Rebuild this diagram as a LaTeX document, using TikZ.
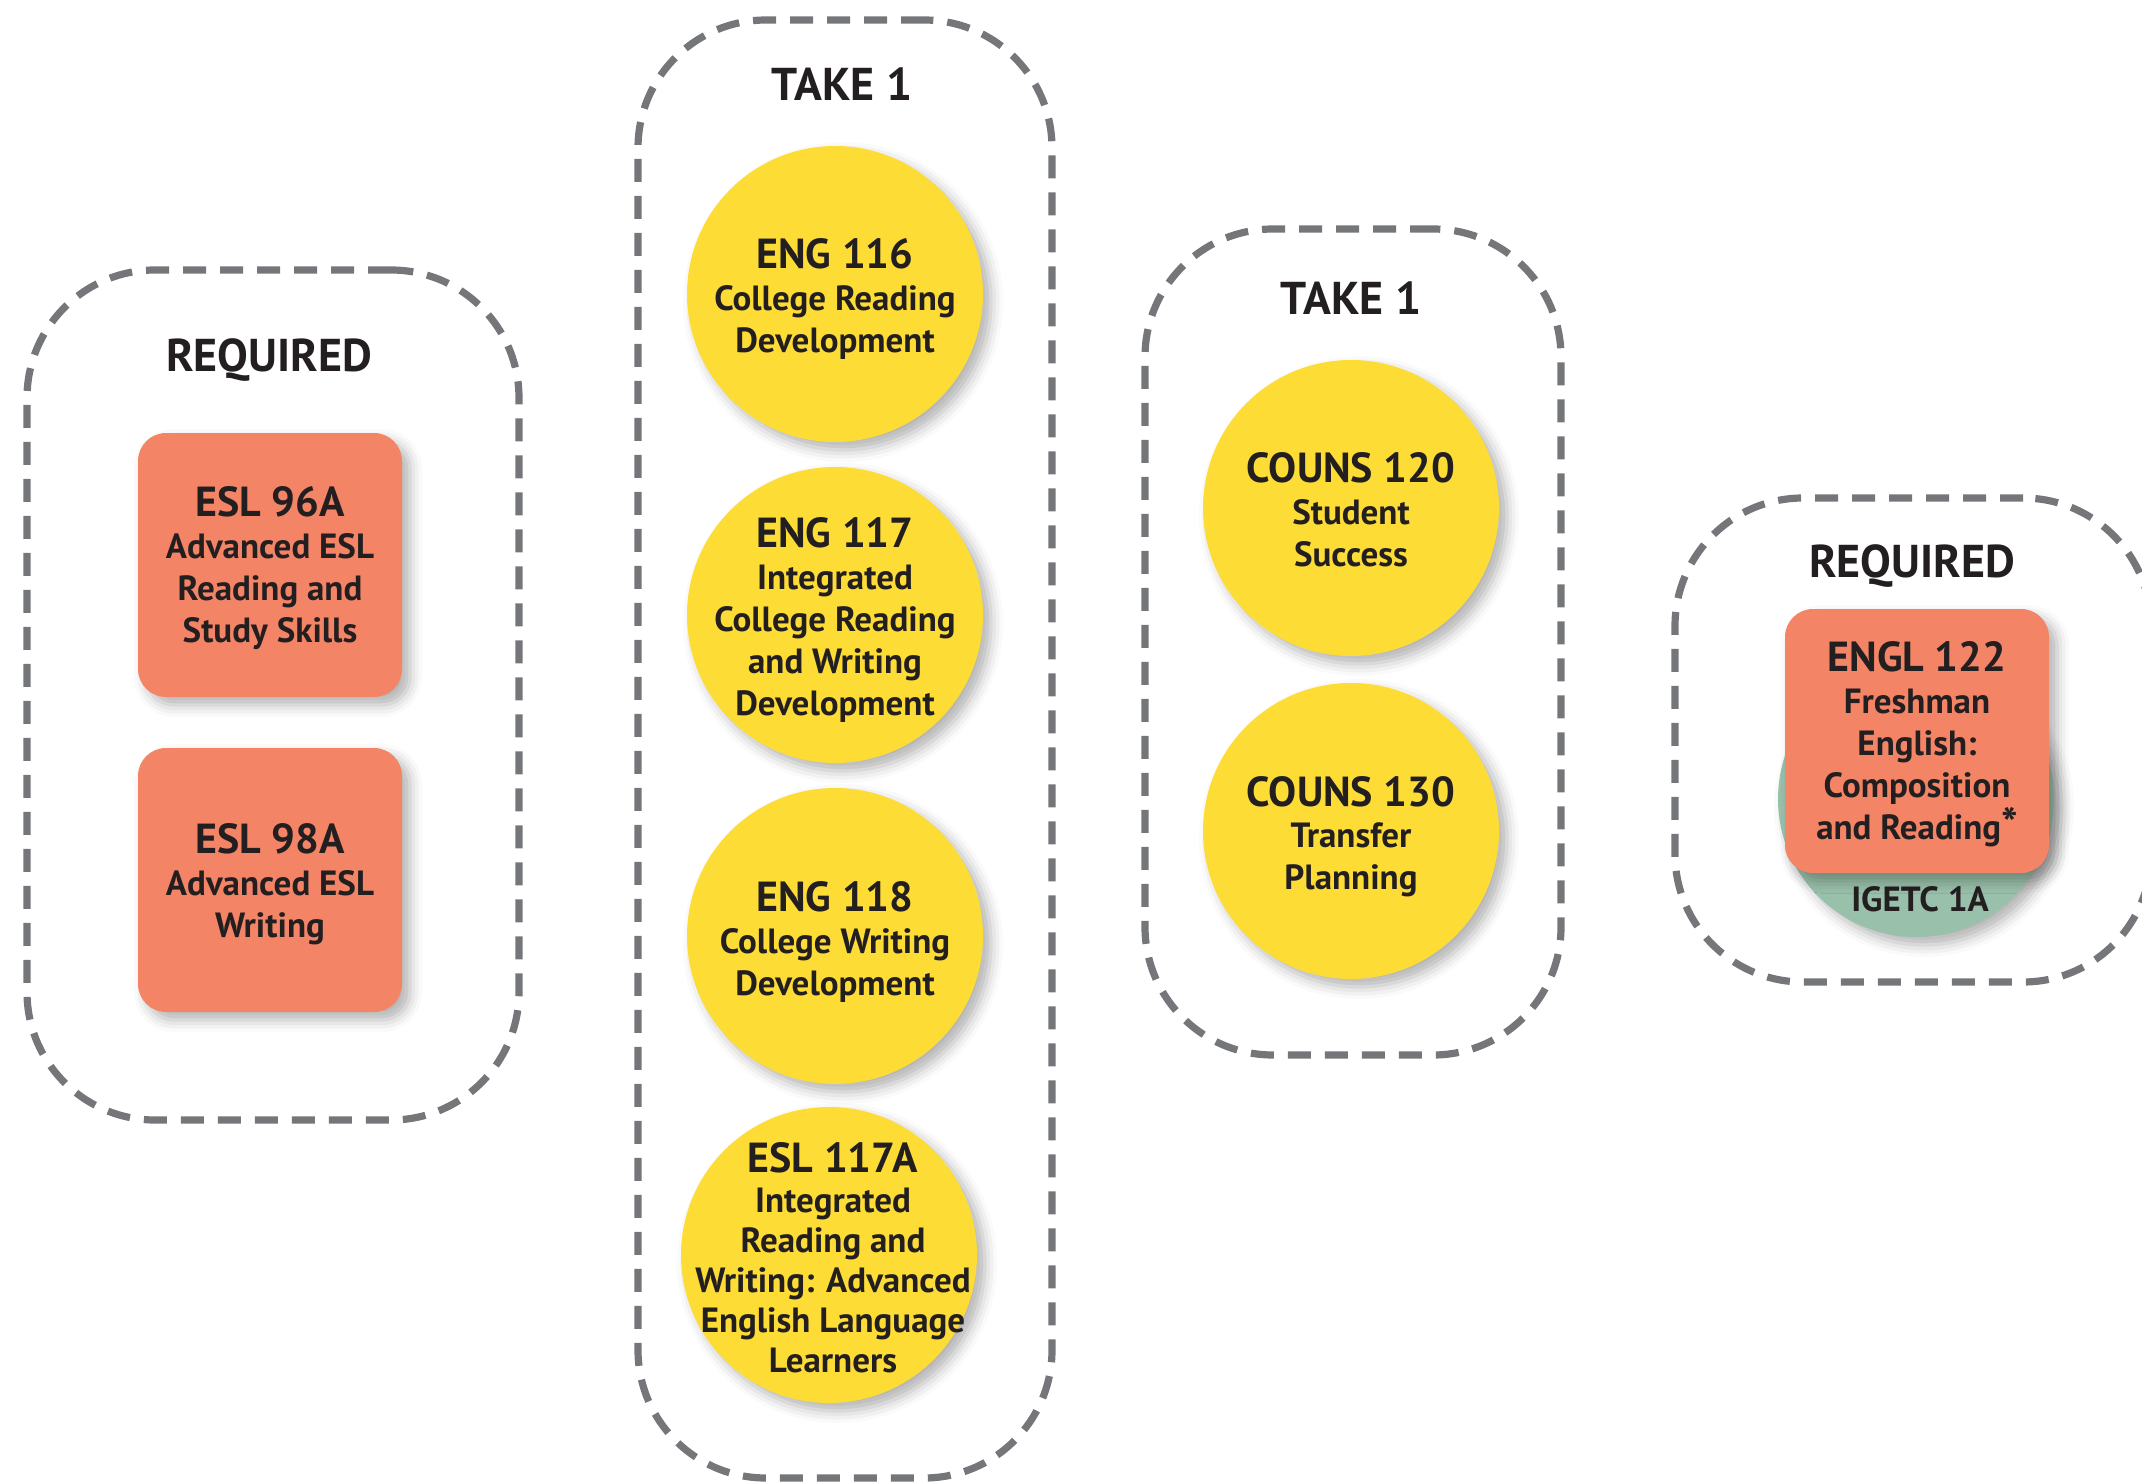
\documentclass[tikz,border=0pt]{standalone}
\usepackage{fontspec}
\setmainfont{PT Sans}
\usepackage{tikz}
\usetikzlibrary{positioning,shapes,shadows.blur}
\definecolor{salmon}{HTML}{F48466}
\definecolor{sun}{HTML}{FDDC36}
\definecolor{sage}{HTML}{99C0AA}
\definecolor{dashgray}{HTML}{75767A}
\definecolor{ink}{HTML}{231F20}
\tikzstyle{groupbox} = [draw=dashgray, line width=3.6pt, dash pattern=on 11.5pt off 7pt, rounded corners=64pt]
\tikzstyle{heading} = [text=ink, font=\fontsize{23}{26}\selectfont\bfseries]
\tikzstyle{softshadow} = [blur shadow={shadow xshift=4pt, shadow yshift=-4pt, shadow blur radius=6pt, shadow opacity=30}]
\tikzstyle{course} = [circle, fill=sun, minimum size=148pt, inner sep=0pt, softshadow]
\tikzstyle{required} = [rectangle, fill=salmon, rounded corners=14pt, minimum width=132pt, minimum height=132pt, inner sep=0pt, text depth=0pt, align=center, text=ink, font=\fontsize{17.5}{21}\selectfont\bfseries, softshadow]
\tikzstyle{coursetext} = [align=center, text=ink, inner sep=0pt, text depth=0pt, yshift=-1pt, font=\fontsize{17.5}{21}\selectfont\bfseries]
\tikzstyle{igetc} = [circle, fill=sage, minimum size=138pt, inner sep=0pt, softshadow]
\newcommand{\code}[1]{{\fontsize{21}{22}\selectfont #1}}

\begin{document}
\begin{tikzpicture}[x=0.5pt, y=-0.5pt]
    \useasboundingbox (0,0) rectangle (2142,1482);
    \node[groupbox, minimum width=246pt, minimum height=425pt] (req1) at (273,695) {};
    \node[groupbox, minimum width=207pt, minimum height=729pt] (take1) at (845,749) {};
    \node[groupbox, minimum width=208pt, minimum height=413pt] (take2) at (1353,642) {};
    \node[groupbox, minimum width=238pt, minimum height=242pt] (req2) at (1913,740) {};
    \node[heading] (req1title) at (269,360) {REQUIRED};
    \node[heading] (take1title) at (842,84) {TAKE 1};
    \node[heading] (take2title) at (1351,298) {TAKE 1};
    \node[heading] (req2title) at (1912,566) {REQUIRED};
    \node[required] (esl96a) at (270,565) {\code{ESL 96A}\\Advanced ESL\\Reading and\\Study Skills};
    \node[required] (esl98a) at (270,880) {\code{ESL 98A}\\Advanced ESL\\Writing};
    \node[course] (eng116) at (835,294) {};
    \node[coursetext] (eng116text) at (eng116) {\code{ENG 116}\\College Reading\\Development};
    \node[course] (eng117) at (835,615) {};
    \node[coursetext] (eng117text) at (eng117) {\code{ENG 117}\\Integrated\\College Reading\\and Writing\\Development};
    \node[course] (eng118) at (835,936) {};
    \node[coursetext] (eng118text) at (eng118) {\code{ENG 118}\\College Writing\\Development};
    \node[course] (esl117a) at (829,1255) {};
    \node[coursetext, xshift=2pt, font=\fontsize{17.5}{20}\selectfont\bfseries] (esl117atext) at (esl117a) {\code{ESL 117A}\\Integrated\\Reading and\\Writing: Advanced\\English Language\\Learners};
    \node[course] (couns120) at (1351,508) {};
    \node[coursetext] (couns120text) at (couns120) {\code{COUNS 120}\\Student\\Success};
    \node[course] (couns130) at (1351,831) {};
    \node[coursetext] (couns130text) at (couns130) {\code{COUNS 130}\\Transfer\\Planning};
    \node[igetc] (igetc1a) at (1916,799) {};
    \node[coursetext] (igetc1atext) at (1920,897) {IGETC 1A};
    \node[required] (engl122) at (1917,741) {\code{ENGL 122}\\Freshman\\English:\\Composition\\and Reading{\fontsize{22}{22}\selectfont*}};
    % \draw[red] (0,0) rectangle (2142,1482);
\end{tikzpicture}
\end{document}
